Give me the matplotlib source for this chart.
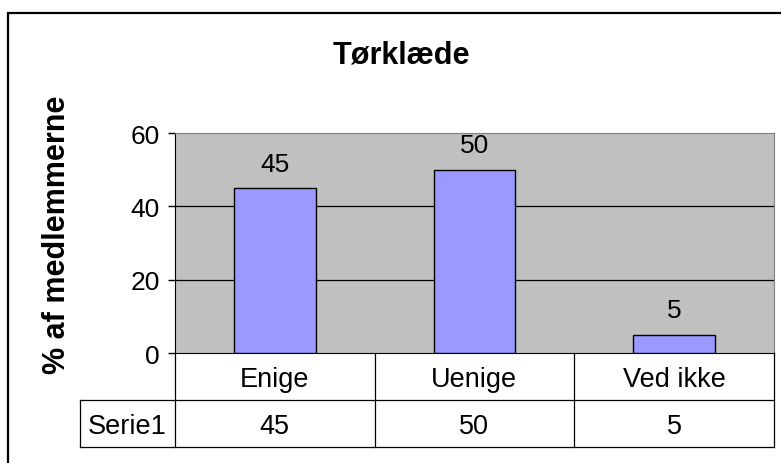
import matplotlib
matplotlib.use("Agg")
import matplotlib.pyplot as plt
from matplotlib.patches import Rectangle
from matplotlib.lines import Line2D

categories = ["Enige", "Uenige", "Ved ikke"]
values = [45, 50, 5]
series_name = "Serie1"
title = "Tørklæde"
ylabel = "% af medlemmerne"
yticks = [0, 20, 40, 60]

plt.rcParams['font.family'] = ['Liberation Sans', 'DejaVu Sans']

W, H = 781, 464
fig = plt.figure(figsize=(W / 100, H / 100), dpi=100)

def box(x0, y0, x1, y1):
    # pixel box (top-left origin) -> figure fraction rect
    return [x0 / W, 1 - y1 / H, (x1 - x0) / W, (y1 - y0) / H]

# outer chart frame
fig.add_artist(Rectangle((8 / W, -0.1), 1.2, 1 - 14 / H + 0.1, transform=fig.transFigure,
                         fill=False, edgecolor='black', linewidth=1.6, clip_on=False))

# plot area
ax = fig.add_axes(box(175, 134, 774, 354))
ax.set_facecolor('#C0C0C0')
x = list(range(len(categories)))
bars = ax.bar(x, values, width=0.41, color='#9999FF', edgecolor='black', linewidth=1.0, zorder=3)
for xi, v in zip(x, values):
    ax.annotate(str(v), xy=(xi, v), xytext=(0, 9), textcoords='offset points',
                ha='center', va='bottom', fontsize=19)
ax.set_xlim(-0.5, len(categories) - 0.5)
ax.set_ylim(0, 60)
ax.set_yticks(yticks)
ax.tick_params(axis='y', labelsize=19, length=5, width=1, direction='out', pad=6)
ax.set_xticks([])
for g in yticks[1:-1]:
    ax.axhline(g, color='black', linewidth=0.9, zorder=1)
ax.spines['left'].set_color('black')
ax.spines['bottom'].set_color('black')
ax.spines['top'].set_color('#808080')
ax.spines['right'].set_color('#808080')

fig.text(401 / W, 1 - 55 / H, title, ha='center', va='center', fontsize=22, fontweight='bold')
fig.text(57 / W, 1 - 235 / H, ylabel, ha='center', va='center', rotation=90,
         fontsize=22, fontweight='bold')

# data table under the plot
tab = fig.add_axes(box(80, 354, 774, 448))
tab.set_axis_off()
left = -0.5 - 95 / 200
tab.set_xlim(left, len(categories) - 0.5)
tab.set_ylim(0, 2)
lw = 0.9
lines = [
    ([-0.5, len(categories) - 0.5], [1, 1]),
    ([left, -0.5], [1, 1]),
    ([left, len(categories) - 0.5], [0, 0]),
    ([left, left], [0, 1]),
]
for i in range(len(categories) + 1):
    lines.append(([i - 0.5, i - 0.5], [0, 2]))
for xs, ys in lines:
    tab.add_line(Line2D(xs, ys, color='black', linewidth=lw, clip_on=False))
for xi, c, v in zip(x, categories, values):
    tab.text(xi, 1.45, c, ha='center', va='center', fontsize=19.5)
    tab.text(xi, 0.45, str(v), ha='center', va='center', fontsize=19.5)
tab.text((left - 0.5) / 2, 0.45, series_name, ha='center', va='center', fontsize=19.5)

fig.savefig("out.png", dpi=100)
